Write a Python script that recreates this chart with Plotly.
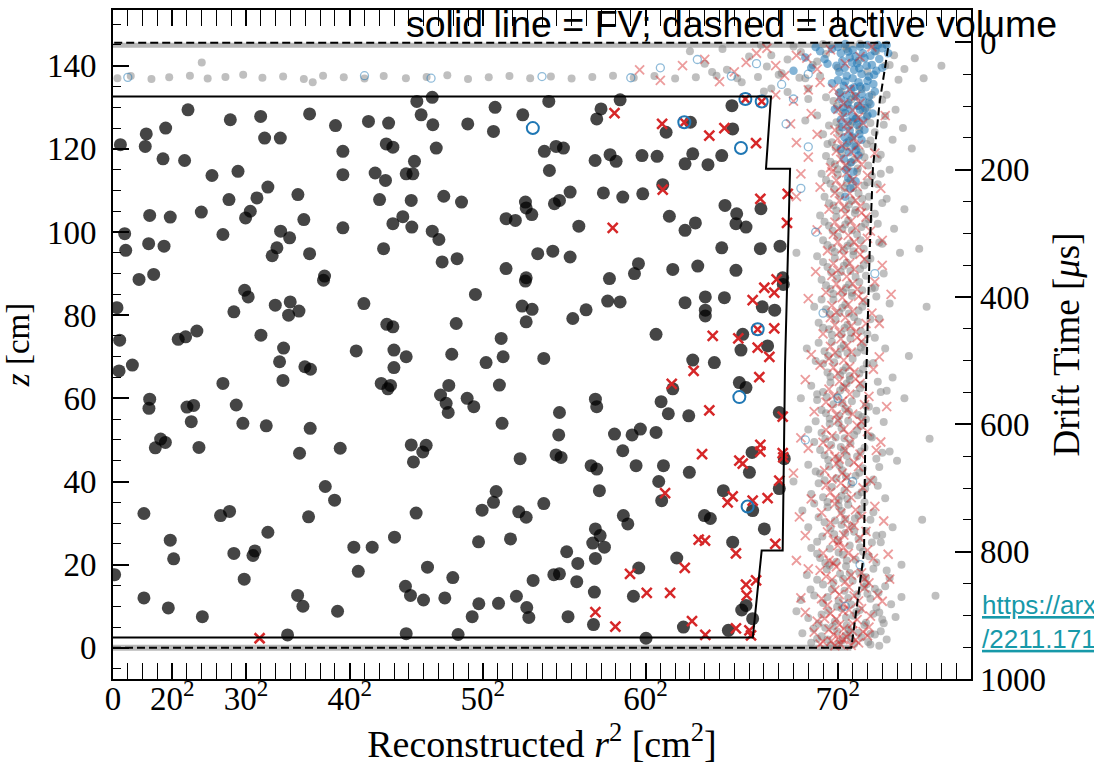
import plotly.graph_objects as go

# ---------------- data (r^2 in cm^2, z in cm) ----------------
# events inside fiducial volume (dark dots)
fv_dots = [
(507,129.4),(793,127.0),(998,127.8),(1329,128.4),(1504,125.6),(225,123.6),(356,125.0),(50,121.0),(218,120.6),
(1025,122.6),(1131,122.6),(338,117.6),(484,117.2),(1554,119.4),(669,113.6),(845,114.6),(1554,113.8),(1047,110.8),
(784,107.8),(973,108.2),(1250,109.0),(248,104.0),(387,103.6),(597,104.8),(928,105.0),(896,103.4),(1290,103.0),
(79,99.6),(86,95.6),(241,97.2),(345,96.6),(743,99.4),(1133,100.2),(1194,98.6),(1108,96.2),(1076,94.3),(1329,94.8),
(1554,101.0),(176,88.6),(275,89.8),(1430,89.4),(1423,88.4),(890,86.0),(914,84.4),(1097,82.4),(1198,83.2),(1187,80.0),
(1257,81.0),(817,80.8),(27,81.8),(45,74.0),(441,74.2),(491,74.8),(567,76.2),(1000,75.2),(1153,72.1),(1126,68.8),
(131,68.0),(41,66.6),(1297,67.6),(1335,67.0),
(743,63.6),(1149,64.3),(248,59.8),(243,57.6),(500,57.9),(545,58.3),(529,54.4),(833,58.4),(878,54.0),(1036,53.4),
(1333,52.8),(322,50.2),(354,49.4),(286,48.1),(581,48.2),(1261,46.8),(1536,48.0),(1435,38.8),(1498,35.5),(209,32.3),
(727,31.8),(788,32.8),(1322,31.5),(1047,27.8),(387,25.9),(410,21.4),(817,22.7),(946,22.2),(959,23.3),(11,17.6),
(887,16.5),(209,12.0),(374,9.6),(604,7.5),(1248,12.6),(1284,10.0),(1518,8.8),(1180,3.1),
(2054,131.4),(2158,132.4),(2583,130.0),(2770,128.2),(2946,131.4),(2083,128.2),(2162,125.8),(1727,126.6),(1863,126.2),
(2398,126.0),(2572,124.2),(1847,121.2),(1892,120.4),(2185,120.2),(2038,117.0),(2916,119.4),(2995,120.6),(3045,120.2),
(1772,114.2),(1842,112.4),(1982,114.0),(2027,114.0),(2950,114.8),(1802,107.8),(2016,107.6),(2236,108.6),(2356,107.2),
(2788,107.2),(2793,105.8),(2831,104.2),(2657,103.2),(2720,102.8),(2984,106.8),(3018,107.6),(3090,109.6),(1892,102.0),
(1959,103.7),(2020,101.2),(2158,100.2),(2203,98.2),(1829,96.0),(2225,92.8),(2326,93.6),(2657,91.2),(2871,94.8),
(2973,95.4),(3090,94.0),(2793,89.0),(2788,88.2),(2450,85.0),(1696,82.8),(2766,82.2),(2833,81.4),(2793,78.4),(1851,77.8),
(1892,77.2),(2320,78.0),(2624,74.4),(1644,71.4),(1899,71.6),(1982,70.0),(2290,70.6),(2522,68.6),(2637,70.0),(2912,69.6),
(1899,67.4),(3108,79.2),
(1813,63.6),(1858,62.3),(1876,63.1),(2270,63.1),(2214,60.8),(2252,58.8),(2266,56.6),(2394,60.0),(2439,58.0),(2612,63.2),
(2630,54.0),(3018,56.6),(3013,51.2),(2995,46.4),(3029,45.8),(2752,45.5),(2016,48.8),(2117,48.7),(2094,47.1),(2031,44.7),
(2590,37.6),(2572,35.0),(2495,33.1),(2743,32.7),(2793,31.4),(2912,34.7),(2049,32.4),(1903,26.6),(1628,24.2),(1752,24.2),
(2471,25.5),(2687,26.2),(3067,23.1),(1658,18.4),(2126,19.4),(2297,16.9),(1977,14.8),(2011,12.6),(2099,11.5),(2243,12.0),
(2428,7.5),(2473,10.6),(2606,10.7),(2727,12.4),(2797,9.7),(2811,7.3),(2840,16.2),(2980,17.6),(3018,17.8),(3076,7.5),
(1982,3.4),(2333,3.2),
(3428,131.8),(3299,129.6),(3270,127.2),(4184,130.4),(4189,124.8),(3739,124.0),(3903,126.4),(3360,118.6),(3401,117.0),
(3259,117.2),(3576,118.4),(3678,118.2),(3867,116.4),(3919,118.8),(4022,116.2),(4115,118.4),(3716,111.4),(3315,109.4),
(3446,108.4),(3581,109.2),(4137,106.4),(4216,104.4),(4211,102.0),(4279,101.2),(4380,105.6),(3761,103.8),(3867,100.4),
(3937,102.2),(3149,101.4),(4115,96.2),(4376,96.0),(4509,96.6),(3552,92.4),(3525,90.0),(3784,91.0),(3953,91.8),(4211,90.8),
(3356,88.8),(3344,83.4),(3428,83.2),(3198,81.3),(3867,83.0),(4004,84.4),(4004,81.2),(4004,79.8),(4133,84.2),(4389,82.0),
(4473,81.2),(4527,89.0),(4531,87.4),(3671,75.4),(4257,75.4),(4245,71.6),(4425,72.6),(3919,69.2),(4065,68.6),
(4234,63.8),(4279,62.6),(3784,62.3),(3261,59.8),(3270,58.0),(3705,59.2),(3754,56.3),(3892,55.8),(3390,51.4),(3509,51.2),
(3565,52.6),(3671,51.8),(3446,47.4),(3232,43.8),(3270,43.0),(3536,43.8),(3721,43.8),(3896,42.2),(3288,37.8),(3689,40.0),
(3709,35.4),(4126,37.8),(4302,42.2),(4320,47.0),(4504,56.6),(4504,38.3),(3998,31.8),(4038,31.1),(4324,33.0),(3450,31.8),
(3480,29.8),(3261,28.6),(3293,27.0),(3243,25.2),(3322,24.2),(3261,21.5),(3142,20.3),(3135,15.9),(3554,19.2),(3811,21.6),
(4189,25.4),(4403,28.6),(3254,13.4),(3518,12.4),(3248,5.6),(3603,2.3),(3856,5.0),(4160,4.2),(4250,9.1),(4279,10.2),
(4324,7.0),(4538,45.5),
]

# events inside FV flagged as crosses
fv_cross = [
(991,2.3),(3390,128.6),(3712,126.0),(4031,123.2),(4133,125.0),(4347,121.4),(3716,110.2),(3378,101.0),(4376,108.0),
(4561,109.2),(4556,102.2),(4486,88.6),(4403,86.6),(4470,85.4),(4324,83.6),(4054,75.0),(4227,74.4),(4358,72.2),
(4437,70.0),(4470,76.8),(3862,126.4),(4275,132.0),(4385,131.4),(4358,76.6),
(3777,63.5),(3925,66.6),(4369,65.1),(4031,57.1),(4527,55.6),(3982,46.6),(4234,45.0),(4257,44.3),(4376,48.8),(4376,47.2),
(4527,46.8),(4531,45.8),(3732,37.2),(4155,35.0),(4189,36.4),(4324,35.4),(4425,36.0),(4504,40.2),(3959,26.0),(4002,25.8),
(4211,22.7),(4477,25.0),(3865,19.2),(3495,17.8),(3608,13.2),(3766,13.2),(4279,15.2),(4347,16.2),(4284,12.6),(3261,8.6),
(3396,5.1),(3914,6.4),(4004,3.1),(4211,4.7),(4302,4.2),(4313,3.0),
]

# events inside FV flagged as open circles
fv_ring = [(2838,125.0),(3862,126.4),(4275,132.0),(4385,131.4),(4245,120.2),(4358,76.6),(4234,60.3),(4290,34.0)]

# events outside FV: grey dots
out_grey = [
(4720,1.2),(4790,2.8),(4850,0.6),(4895,3.9),(4930,1.8),(4975,4.4),(5010,0.9),(5060,2.5),(5105,1.4),(5150,3.2),(4660,3.5),
(5230,2.0),(4815,4.8),(4990,2.1),(5180,0.5),
(4700,7.2),(4770,5.8),(4835,8.9),(4880,6.3),(4925,9.5),(4960,5.4),(5005,7.7),(5048,9.1),(5090,6.0),(5140,8.2),(5210,5.9),
(4620,8.8),(5290,7.4),
(4740,12.6),(4800,10.8),(4860,14.1),(4905,11.3),(4945,13.7),(4990,10.4),(5030,12.9),(5075,14.6),(5120,11.8),(5175,13.3),
(4650,11.5),(5330,12.2),
(4760,16.4),(4825,18.9),(4870,15.7),(4915,17.8),(4955,19.6),(5000,16.1),(5045,18.2),(5095,15.3),(5140,19.0),(4690,17.5),(5250,16.8),
(4780,21.6),(4845,23.9),(4890,20.7),(4935,22.4),(4980,24.6),(5020,21.2),(5070,23.1),(4720,24.0),(5160,20.5),
(4795,26.8),(4850,28.7),(4900,25.9),(4950,27.6),(4995,29.3),(5040,26.2),(5090,28.1),(4700,29.0),(5200,27.2),
(4770,31.4),(4830,33.8),(4880,30.6),(4925,32.9),(4970,34.4),(5015,31.1),(5060,33.3),(5120,30.8),(4660,33.0),
(4800,36.2),(4860,38.7),(4905,35.5),(4945,37.9),(4990,39.4),(5035,36.7),(5085,38.3),(4720,37.0),(5170,39.0),
(4780,41.9),(4840,43.6),(4890,40.8),(4930,42.7),(4975,44.5),(5020,41.4),(5070,43.2),(4700,44.0),(5140,40.5),
(4810,46.3),(4855,48.8),(4900,45.6),(4940,47.4),(4985,49.2),(5030,46.0),(5080,48.1),(4740,49.5),(5200,46.9),
(4790,51.7),(4845,53.9),(4885,50.6),(4925,52.8),(4970,54.6),(5010,51.2),(5055,53.4),(4700,52.5),(5120,50.9),
(4820,56.4),(4870,58.6),(4910,55.8),(4950,57.5),(4995,59.3),(5040,56.0),(5090,58.2),(4760,59.6),(5160,57.0),
(4800,61.5),(4850,63.8),(4895,60.4),(4935,62.6),(4980,64.5),(5025,61.1),(5070,63.3),(4720,63.0),(5230,61.8),
(4830,66.2),(4875,68.7),(4915,65.6),(4955,67.4),(5000,69.5),(5045,66.0),(5095,68.3),(4750,69.0),
(4810,71.3),(4860,73.6),(4900,70.5),(4940,72.8),(4985,74.4),(5030,71.0),(5075,73.2),(4690,72.0),(5150,74.6),
(4840,76.6),(4885,78.9),(4925,75.4),(4965,77.7),(5010,79.5),(5055,76.2),(4770,78.2),(5120,79.0),
(4820,81.4),(4870,83.7),(4910,80.6),(4950,82.5),(4995,84.6),(5040,81.1),(5085,83.3),(4740,82.0),
(4850,86.3),(4895,88.8),(4935,85.5),(4975,87.4),(5020,89.2),(5065,86.0),(4790,88.5),(5150,86.6),
(4830,91.6),(4880,93.7),(4920,90.4),(4960,92.6),(5005,94.5),(5050,91.1),(5100,93.3),(4760,94.2),
(4860,96.2),(4900,98.9),(4940,95.6),(4985,97.3),(5030,99.4),(5075,96.0),(4800,98.0),(5180,97.5),
(4840,101.5),(4890,103.6),(4930,100.7),(4970,102.8),(5015,104.6),(5060,101.2),(5110,103.1),(4780,104.0),
(4870,106.4),(4915,108.8),(4955,105.5),(4995,107.6),(5040,109.3),(5090,106.1),(4810,108.5),(5200,107.0),
(4850,111.6),(4900,113.8),(4945,110.5),(4985,112.6),(5030,114.5),(5080,111.2),(5130,113.5),(4790,114.0),
(4880,116.3),(4925,118.9),(4965,115.6),(5010,117.4),(5055,119.2),(5105,116.0),(4820,118.3),(5170,117.6),
(4860,121.6),(4910,123.8),(4955,120.5),(5000,122.7),(5045,124.5),(5095,121.2),(4800,123.5),(5150,124.0),
(4890,126.4),(4935,128.8),(4980,125.6),(5025,127.4),(5070,129.3),(5120,126.2),(4760,128.0),(4680,126.8),(5220,127.9),
(4870,131.5),(4920,133.8),(4965,130.6),(5010,132.7),(5060,134.4),(5110,131.2),(4700,132.0),(4560,133.7),(4450,134.5),(5200,131.8),
(30,137.0),(120,137.5),(260,136.8),(380,137.2),(520,137.6),(640,136.9),(760,137.3),(880,137.8),(1010,137.1),(1150,137.4),
(1290,136.8),(1420,137.6),(1560,137.2),(1700,136.9),(1830,137.5),(1980,137.0),(2120,137.3),(2260,137.7),(2400,136.8),
(2540,137.2),(2680,137.5),(2820,137.0),(2960,137.4),(3100,136.9),(3240,137.3),(3380,137.6),(3520,137.1),(3660,137.5),
(3800,136.9),(3940,137.2),(4080,137.6),(4220,137.0),(4360,137.3),(4500,137.8),(4640,137.1),(4780,137.5),(600,140.8),
(1350,136.0),(4000,140.5),(4150,139.0),(4300,142.2),(4420,139.8),(4560,141.5),(4650,143.3),(4730,140.2),(4820,142.8),
(4900,139.5),(4960,144.0),(5040,141.2),(5100,138.6),(5160,143.5),(5220,140.0),(5280,142.5),(5350,139.2),(5420,141.8),
(5480,137.0),(4850,145.0),(4950,144.6),(5050,145.3),(5150,144.8),
(5400,120.1),(5450,96.0),(5380,70.2),(5520,50.3),(5470,30.8),(5560,12.5),(5600,140.0),(5350,105.5),(5500,82.0),
(5300,45.0),(4620,95.0),(4650,60.0),(4600,40.0),
(4760,2.2),(4905,1.0),(5040,3.6),(5120,0.8),(4830,2.0),(4955,3.0),(4735,4.6),(4865,5.1),(4985,3.7),(5080,5.5),(5190,4.0),
(4790,8.0),(4895,9.9),(5025,8.6),(5160,9.7),(4955,7.3),(4715,14.0),(4830,12.2),(4970,12.0),(5100,13.0),(5220,14.8),
(4800,15.2),(4935,16.6),(5070,16.9),(4845,19.8),(4980,18.0),(4815,20.4),(4905,22.9),(5050,24.2),(4760,22.6),(4960,21.0),
(4760,25.5),(4875,27.3),(5010,27.9),(5130,25.3),(4925,29.6),(4810,30.2),(4905,34.1),(5040,31.8),(4740,34.7),(4950,31.0),
(4830,35.1),(4925,36.6),(5060,37.4),(4770,39.6),(4965,35.8),(4810,40.3),(4910,43.9),(5045,42.1),(4750,42.4),(4955,41.2),
(4835,45.2),(4920,48.3),(5055,47.2),(4780,47.6),(4960,46.2),(4815,50.2),(4905,54.1),(5030,52.2),(4750,54.5),(4945,50.4),
(4845,55.1),(4930,58.9),(5065,55.5),(4790,57.2),(4975,56.8),(4825,60.3),(4915,61.9),(5050,62.4),(4760,61.0),(4960,63.6),
(4850,65.2),(4935,66.7),(5070,67.0),(4800,68.4),(4980,65.4),(4835,70.2),(4920,72.0),(5055,72.2),(4770,73.4),(4965,70.9),
(4860,75.3),(4945,76.9),(5035,78.4),(4800,77.0),(4990,75.8),(4845,80.2),(4930,81.8),(5065,82.0),(4790,83.8),(4975,80.4),
(4870,85.1),(4955,86.6),(5045,88.0),(4820,87.2),(4995,85.4),(4855,90.3),(4940,91.9),(5075,92.0),(4800,92.8),(4985,90.6),
(4880,95.2),(4965,96.7),(5055,98.0),(4830,96.9),(5005,95.4),(4865,100.3),(4950,101.8),(5085,102.0),(4810,102.5),(4995,100.4),
(4890,105.2),(4975,106.6),(5065,108.0),(4840,106.9),(5020,105.3),(4875,110.3),(4960,111.8),(5100,112.0),(4820,112.5),(5005,110.6),
(4900,115.1),(4985,116.7),(5080,118.0),(4850,116.9),(5035,115.3),(4885,120.3),(4975,121.9),(5120,122.0),(4830,121.2),(5020,120.6),
(4910,125.2),(5000,126.5),(5095,127.8),(4840,125.6),(5045,125.3),(4895,130.3),(4990,131.9),(5130,133.0),(4820,132.4),(5035,130.4),
(5120,3.4),(5200,6.8),(5260,10.5),(5150,14.2),(5230,18.6),(5110,22.0),(5190,25.4),(5270,29.0),(5140,32.6),(5220,36.0),
(5100,39.8),(5180,43.5),(5250,47.2),(5130,50.6),(5210,54.3),(5110,58.0),(5190,61.5),(5270,65.0),(5140,68.5),(5220,72.0),
(5100,75.5),(5180,79.2),(5250,82.8),(5130,86.4),(5210,90.0),(5120,93.6),(5200,97.2),(5280,100.8),(5150,104.4),(5230,108.0),
(5170,111.5),(5250,115.0),(5190,118.6),(5270,122.2),(5210,125.8),(5290,129.4),(5230,133.0),(5310,136.6),(5250,140.2),
(5180,8.5),(5090,17.0),(5160,27.0),(5080,35.0),(5160,45.5),(5090,55.0),(5170,64.0),(5080,71.5),(5160,84.5),(5090,89.5),
(5170,102.0),(5110,108.5),(5190,114.0),(5140,120.5),(5100,130.0),(5330,20.0),(5350,60.0),(5320,95.0),(5340,125.0),
(3900,143.5),(4050,138.5),(4120,144.0),(4250,136.0),(4380,145.0),(4450,142.5),(4520,138.2),(4600,144.6),(4680,137.0),
(4760,141.0),(4800,145.2),(4700,134.5),(4400,133.8),
]

# events outside FV: crosses
out_cross = [
(4800,1.5),(4870,3.2),(4920,0.8),(4960,2.6),(5000,4.1),(5040,1.2),(4740,3.8),(5100,2.9),(4880,0.5),(4940,4.6),
(4760,6.4),(4850,8.2),(4910,5.5),(4975,9.1),(5030,6.8),(4680,8.5),(5120,7.6),
(4790,11.8),(4880,13.9),(4940,10.6),(5010,12.5),(5080,14.4),(4650,12.0),(5200,11.2),
(4820,17.2),(4890,19.5),(4950,15.9),(5060,18.0),(4700,19.0),(5250,16.5),
(4800,22.8),(4870,20.4),(4940,24.1),(5010,21.7),(4620,21.0),(5100,23.5),
(4830,27.9),(4910,25.6),(4970,28.8),(5050,26.4),(4680,27.0),
(4790,32.5),(4880,34.6),(4950,30.9),(5020,33.2),(4640,31.5),(5150,34.0),
(4850,37.4),(4920,39.6),(4990,36.1),(5070,38.5),(4720,35.8),
(4810,42.6),(4890,44.3),(4960,41.0),(5040,43.6),(4600,42.0),
(4840,47.8),(4910,45.4),(4980,49.2),(5050,46.6),(4700,48.0),(5160,47.5),
(4820,52.4),(4900,54.7),(4970,51.3),(5030,53.5),(4650,50.5),
(4860,57.6),(4930,59.3),(5000,56.2),(5080,58.5),(4740,56.8),
(4840,62.2),(4910,64.1),(4980,61.0),(5050,63.6),(4680,64.5),
(4870,67.4),(4940,69.2),(5010,66.3),(4780,68.0),(5140,67.0),
(4850,72.5),(4920,74.3),(4990,71.1),(5060,73.7),(4720,70.5),
(4880,77.6),(4950,79.4),(5020,76.0),(4800,75.5),(5180,78.0),
(4860,82.3),(4930,84.2),(5000,81.0),(5070,83.6),(4700,84.0),
(4890,87.5),(4960,89.3),(5030,86.2),(4820,85.5),(5150,88.0),
(4870,92.4),(4940,94.3),(5010,91.0),(5080,93.5),(4750,90.5),
(4900,97.6),(4970,99.2),(5040,96.3),(4830,95.5),(5200,98.0),
(4880,102.4),(4950,104.3),(5020,101.0),(5090,103.6),(4760,100.5),
(4910,107.5),(4980,109.3),(5050,106.2),(4840,105.5),(4620,108.5),
(4890,112.4),(4960,114.3),(5030,111.0),(5100,113.6),(4780,110.8),(4650,114.0),
(4920,117.5),(4990,119.3),(5060,116.2),(4850,115.5),(4700,118.0),
(4900,122.4),(4970,124.3),(5040,121.0),(4760,123.5),(4620,121.5),
(4930,127.5),(5000,129.3),(5070,126.2),(4720,128.5),(4580,126.0),
(4910,132.4),(4980,134.3),(5050,131.0),(4600,131.5),(4480,133.0),(4700,134.2),
(4000,141.5),(4200,138.5),(4350,143.0),(4480,140.0),(4620,142.5),(4760,139.2),(4850,143.8),(4950,140.5),(5050,142.2),
(3700,136.5),(3560,139.0),(5130,144.5),
(4780,0.9),(4905,2.4),(5020,1.9),(5070,3.9),(4840,4.4),(4990,0.6),(4935,2.0),(4855,1.6),
(4810,7.0),(4935,8.8),(5060,9.4),(4890,6.9),(5000,5.8),(4830,10.3),(4910,12.8),(5040,11.3),(4975,14.6),
(4860,16.4),(4990,17.5),(4780,18.6),(5110,15.6),(4840,21.0),(4970,22.7),(4900,24.6),
(4870,25.9),(4940,27.1),(5010,29.4),(4850,30.1),(4920,32.4),(5060,31.6),(4880,36.0),(4960,38.3),(4820,39.1),
(4860,40.6),(4930,42.0),(5010,44.6),(4880,46.0),(4950,47.5),(4800,49.4),(4860,51.0),(4940,52.6),(5060,54.4),
(4890,56.0),(4960,57.2),(4820,59.1),(4870,60.6),(4950,62.7),(5020,64.6),(4900,66.0),(4980,67.6),(4840,69.5),
(4880,71.0),(4960,72.6),(5030,74.6),(4910,76.0),(4990,77.4),(4850,79.4),(4890,80.7),(4970,82.6),(5040,84.5),
(4920,86.0),(5000,87.6),(4860,89.6),(4900,90.8),(4980,92.5),(5050,94.6),(4930,96.0),(5010,97.6),(4870,99.5),
(4910,100.8),(4990,102.6),(5060,104.6),(4940,106.0),(5020,107.6),(4880,109.4),(4920,110.9),(5000,112.6),(4860,114.5),
(4950,116.0),(5030,117.6),(4890,119.5),(4930,120.8),(5010,122.6),(4880,124.5),(4960,126.0),(5040,127.6),(4900,129.5),
(4940,130.8),(5020,132.6),(4870,134.5),
(5110,5.0),(5170,12.6),(5140,21.5),(5210,30.5),(5120,40.2),(5190,49.5),(5110,60.5),(5180,70.0),(5130,80.5),(5200,92.0),
(5120,100.2),(5190,110.5),(5150,119.0),(5220,128.0),(5080,16.5),(5090,28.0),(5100,52.0),(5090,78.0),(5100,98.5),
(5230,58.0),(5260,85.0),(5240,22.5),
(3850,140.0),(4100,136.2),(4280,140.8),(4420,144.2),(4540,137.6),(4690,141.8),(4780,136.0),
]

# events outside FV: blue dots (dense cluster under the gate)
out_blue = [
(4900,144.5),(4950,145.2),(5000,143.8),(5050,144.6),(5100,145.0),(5150,143.5),(5200,144.2),(4930,141.2),(4980,142.0),
(5030,140.6),(5080,141.8),(5130,140.2),(5180,141.6),(4910,138.5),(4960,137.6),(5010,139.0),(5060,138.0),(5110,137.4),
(5160,138.8),(4940,135.2),(4990,134.4),(5040,136.0),(5090,134.8),(5140,135.6),(4920,132.0),(4970,131.2),(5020,132.6),
(5070,131.6),(5120,130.8),(4950,128.6),(5000,127.8),(5050,129.4),(5100,128.0),(4930,125.2),(4980,124.4),(5030,125.8),
(5080,124.6),(4960,121.5),(5010,120.8),(5060,122.2),(4940,117.6),(4990,116.8),(5040,118.4),(4970,113.0),(5020,112.2),
(4950,108.5),(4830,140.5),(4780,143.5),(4720,139.5),(4680,142.0),(4600,138.8),(4860,135.8),(4880,129.5),
(4920,143.0),(4970,143.4),(5020,142.2),(5070,143.0),(5120,142.4),(5170,145.0),(4890,140.0),(4945,139.5),(4995,140.8),
(5045,139.4),(5095,140.0),(5145,137.8),(5200,139.5),(4900,136.5),(4950,136.2),(5000,137.0),(5050,135.0),(5100,136.4),
(5150,133.8),(4910,133.5),(4960,133.0),(5010,134.8),(5060,133.2),(5110,132.6),(4935,130.0),(4985,129.6),(5035,130.4),
(5085,129.8),(5135,128.5),(4920,127.0),(4970,126.6),(5020,127.2),(5070,126.8),(4945,122.8),(4995,123.0),(5045,123.6),
(4920,120.0),(4975,119.2),(5025,119.8),(4955,115.0),(5005,114.5),(4985,110.5),(4860,144.0),(4810,141.6),(4750,144.5),
(5230,145.0),(5240,143.0),
]

# events outside FV: light open circles
out_ring = [
(100,137.2),(1700,137.6),(2150,137.0),(2900,137.4),(3500,137.1),(3700,139.5),(3950,141.5),(4180,137.5),(4350,140.5),
(4520,135.5),(4600,132.0),(4550,126.0),(4700,120.5),(4650,110.5),(4750,100.0),(4800,80.5),(4680,50.0),(4900,60.0),
(5000,40.0),(5050,20.0),(4950,10.0),(5150,90.0),(4700,138.0),
]

# fiducial volume boundary (solid) and active volume boundary (dashed)
FV_R2 = [0, 4325, 4385, 4527, 4543, 4560, 4577, 4414, 4448, 0]
FV_Z = [2.5, 2.5, 23.4, 23.4, 68, 95, 115.2, 115.2, 132.6, 132.6]
AV_R2 = [0, 4991, 5077, 5088, 5115, 5137, 5183, 5245, 0]
AV_Z = [0, 0, 23, 60, 95.4, 115.4, 131.4, 145.5, 145.5]
CATHODE_Z = 0
GATE_Z = 145.5

X_TICKVALS = [0, 400, 900, 1600, 2500, 3600, 4900]
X_TICKTEXT = ["0", "20<sup>2</sup>", "30<sup>2</sup>", "40<sup>2</sup>", "50<sup>2</sup>",
              "60<sup>2</sup>", "70<sup>2</sup>"]

X_RANGE = [0, 5800]
Z_RANGE = [-7.5, 153.4]
DRIFT_RANGE = [1000, -50.8]


def unzip(pairs):
    return [p[0] for p in pairs], [p[1] for p in pairs]


fig = go.Figure()

# band of cathode / gate events
fig.add_trace(go.Scatter(x=[AV_R2[0], AV_R2[1]], y=[CATHODE_Z, CATHODE_Z], mode="lines",
                         line=dict(color="rgba(128,128,128,0.55)", width=6), hoverinfo="skip", showlegend=False))
fig.add_trace(go.Scatter(x=[AV_R2[-1], AV_R2[-2]], y=[GATE_Z - 0.6, GATE_Z - 0.6], mode="lines",
                         line=dict(color="rgba(128,128,128,0.55)", width=5), hoverinfo="skip", showlegend=False))

x, y = unzip(out_grey)
fig.add_trace(go.Scatter(x=x, y=y, mode="markers", showlegend=False,
                         marker=dict(color="#808080", size=8, opacity=0.5, line=dict(width=0))))
x, y = unzip(out_blue)
fig.add_trace(go.Scatter(x=x, y=y, mode="markers", showlegend=False,
                         marker=dict(color="#1f77b4", size=8.5, opacity=0.55, line=dict(width=0))))
x, y = unzip(out_cross)
fig.add_trace(go.Scatter(x=x, y=y, mode="markers", showlegend=False,
                         marker=dict(symbol="x-thin", color="#d62728", size=9, opacity=0.45,
                                     line=dict(width=1.8, color="#d62728"))))
x, y = unzip(out_ring)
fig.add_trace(go.Scatter(x=x, y=y, mode="markers", showlegend=False,
                         marker=dict(symbol="circle-open", color="#1f77b4", size=8, opacity=0.5,
                                     line=dict(width=1.3, color="#1f77b4"))))

x, y = unzip(fv_dots)
fig.add_trace(go.Scatter(x=x, y=y, mode="markers", showlegend=False,
                         marker=dict(color="black", size=13, opacity=0.73, line=dict(width=0))))
x, y = unzip(fv_cross)
fig.add_trace(go.Scatter(x=x, y=y, mode="markers", showlegend=False,
                         marker=dict(symbol="x-thin", color="#d62728", size=10,
                                     line=dict(width=2.5, color="#d62728"))))
x, y = unzip(fv_ring)
fig.add_trace(go.Scatter(x=x, y=y, mode="markers", showlegend=False,
                         marker=dict(symbol="circle-open", color="#1f77b4", size=12,
                                     line=dict(width=2, color="#1f77b4"))))

fig.add_trace(go.Scatter(x=AV_R2, y=AV_Z, mode="lines", showlegend=False,
                         line=dict(color="black", width=2, dash="8px,4px")))
fig.add_trace(go.Scatter(x=FV_R2, y=FV_Z, mode="lines", showlegend=False,
                         line=dict(color="black", width=2)))

# secondary axis carrier
fig.add_trace(go.Scatter(x=[None], y=[None], yaxis="y2", showlegend=False, hoverinfo="skip"))

serif = "Liberation Serif, Times New Roman, serif"
tickfont = dict(family=serif, size=33, color="black")
fig.update_layout(
    width=1094, height=771,
    margin=dict(l=113, r=123, t=8, b=92),
    plot_bgcolor="white", paper_bgcolor="white",
    font=dict(family=serif, size=30, color="black"),
    xaxis=dict(range=X_RANGE, tickmode="array", tickvals=X_TICKVALS, ticktext=X_TICKTEXT,
               tickfont=tickfont,
               ticks="inside", ticklen=16, tickwidth=1.5, tickcolor="black",
               showline=True, linecolor="black", linewidth=2, mirror="allticks",
               showgrid=False, zeroline=False, ticklabelstandoff=-11,
               minor=dict(ticks="inside", ticklen=8, tickwidth=1.2, tickcolor="black",
                          tickmode="linear", tick0=0, dtick=100, showgrid=False),
               title=dict(text="Reconstructed <i>r</i><sup>2</sup> [cm<sup>2</sup>]",
                          font=dict(family=serif, size=38), standoff=6)),
    yaxis=dict(range=Z_RANGE, tickmode="linear", tick0=0, dtick=20, tickfont=tickfont,
               ticks="inside", ticklen=16, tickwidth=1.5, tickcolor="black",
               showline=True, linecolor="black", linewidth=2, mirror=True,
               showgrid=False, zeroline=False, ticklabelstandoff=8,
               minor=dict(ticks="inside", ticklen=8, tickwidth=1.2, tickcolor="black",
                          tickmode="linear", tick0=0, dtick=5, showgrid=False),
               title=dict(text="<i>z</i> [cm]", font=dict(family=serif, size=33), standoff=8)),
    yaxis2=dict(range=DRIFT_RANGE, overlaying="y", side="right", anchor="x",
                tickmode="linear", tick0=0, dtick=200, tickfont=tickfont,
                ticks="inside", ticklen=16, tickwidth=1.5, tickcolor="black",
                showline=False, showgrid=False, zeroline=False, ticklabelstandoff=8,
                minor=dict(ticks="inside", ticklen=8, tickwidth=1.2, tickcolor="black",
                           tickmode="linear", tick0=0, dtick=50, showgrid=False),
                title=dict(text="Drift Time [<i>μ</i>s]", font=dict(family=serif, size=37), standoff=8)),
    annotations=[
        dict(text="solid line = FV; dashed = active volume", xref="paper", yref="paper",
             x=0.7203, y=0.979, xanchor="center", yanchor="middle", showarrow=False,
             font=dict(family="Liberation Sans, Arial, sans-serif", size=37.5, color="black")),
        dict(text="<span style='text-decoration:underline'>https://arxiv.org/abs</span><br>"
                  "<span style='text-decoration:underline'>/2211.17120</span>",
             xref="paper", yref="paper", x=1.0105, y=0.085, xanchor="left", yanchor="middle",
             align="left", showarrow=False,
             font=dict(family="Liberation Sans, Arial, sans-serif", size=26, color="#1799a9")),
    ],
)

fig.write_html("out.html")
